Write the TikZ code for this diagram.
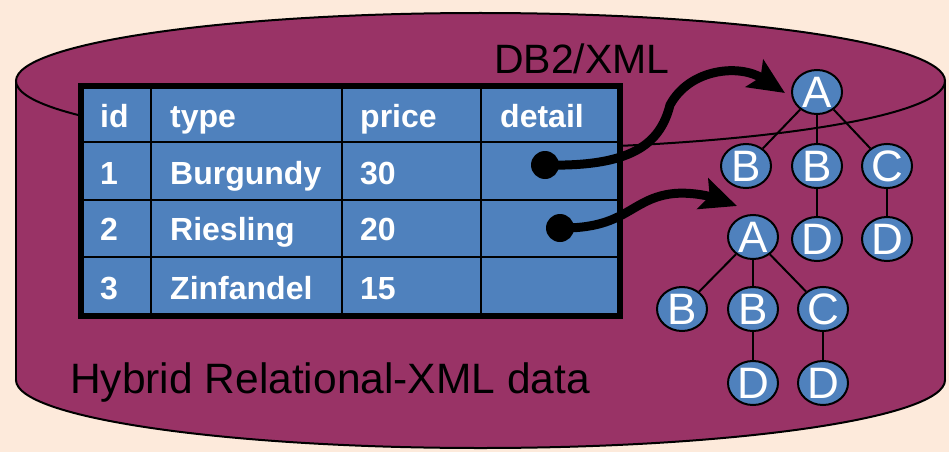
\documentclass[tikz,border=0pt]{standalone}
\usepackage{fontspec}
\setmainfont{Liberation Sans}
\usetikzlibrary{shapes.geometric,arrows.meta}
\definecolor{bg}{HTML}{FDEADB}
\definecolor{maroon}{HTML}{993366}
\definecolor{cellblue}{HTML}{4F81BD}
\begin{document}
\begin{tikzpicture}[x=1pt,y=-1pt,
  cell/.style={anchor=base west,inner sep=0pt,text=white,font=\fontsize{32}{32}\selectfont\bfseries},
  label/.style={anchor=base west,inner sep=0pt,text=black,font=\fontsize{41}{41}\selectfont},
  tnode/.style={ellipse,draw=black,line width=2pt,fill=cellblue,minimum width=50pt,minimum height=44pt,inner sep=0pt,text=white,font=\fontsize{44}{44}\selectfont},
  edge/.style={draw=black,line width=2pt},
  dotnode/.style={circle,fill=black,minimum size=28pt,inner sep=0pt},
  conn/.style={draw=black,line width=9pt,-{Stealth[length=36pt,width=32pt,inset=7pt]}},
  grid/.style={draw=black,line width=2.5pt}]
\useasboundingbox[fill=bg] (0,0) rectangle (949,452);
% cylinder
\fill[maroon,draw=black,line width=2pt] (480.5,380) ellipse [x radius=464.5,y radius=68];
\fill[maroon] (16,81) rectangle (945,380);
\draw[line width=2pt] (16,81) -- (16,380) (945,81) -- (945,380);
\fill[maroon,draw=black,line width=2pt] (480.5,81) ellipse [x radius=464.5,y radius=68];
% table
\fill[cellblue] (81,86) rectangle (619.5,315.5);
\draw[grid] (151,86) -- (151,315.5);
\draw[grid] (342,86) -- (342,315.5);
\draw[grid] (481,86) -- (481,315.5);
\draw[grid] (81,142) -- (619.5,142);
\draw[grid] (81,200) -- (619.5,200);
\draw[grid] (81,257) -- (619.5,257);
\draw[line width=6pt] (81,86) rectangle (619.5,315.5);
\node[cell] (h1) at (100,127) {id};
\node[cell] (h2) at (170,127) {type};
\node[cell] (h3) at (360,127) {price};
\node[cell] (h4) at (500,127) {detail};
\node[cell] (r1a) at (100,184) {1};
\node[cell] (r1b) at (170,184) {Burgundy};
\node[cell] (r1c) at (360,184) {30};
\node[cell] (r2a) at (100,240) {2};
\node[cell] (r2b) at (170,240) {Riesling};
\node[cell] (r2c) at (360,240) {20};
\node[cell] (r3a) at (100,299) {3};
\node[cell] (r3b) at (170,299) {Zinfandel};
\node[cell] (r3c) at (360,299) {15};
% labels
\node[label] (db) at (494,73) {DB2/XML};
\node[label,font=\fontsize{42.5}{42.5}\selectfont] (hy) at (70,393) {Hybrid Relational-XML data};
% tree 1
\node[tnode] (A1) at (817,92) {A};
\node[tnode] (B1) at (746,166) {B};
\node[tnode] (B2) at (817,166) {B};
\node[tnode] (C1) at (887,166) {C};
\node[tnode] (D1) at (817,239) {D};
\node[tnode] (D2) at (887,239) {D};
% tree 2
\node[tnode] (A2) at (753,237) {A};
\node[tnode] (B3) at (682,309) {B};
\node[tnode] (B4) at (753,309) {B};
\node[tnode] (C2) at (823,309) {C};
\node[tnode] (D3) at (753,383) {D};
\node[tnode] (D4) at (823,383) {D};
\draw[edge] (A1) -- (B1);
\draw[edge] (A1) -- (B2);
\draw[edge] (A1) -- (C1);
\draw[edge] (B2) -- (D1);
\draw[edge] (C1) -- (D2);
\draw[edge] (A2) -- (B3);
\draw[edge] (A2) -- (B4);
\draw[edge] (A2) -- (C2);
\draw[edge] (B4) -- (D3);
\draw[edge] (C2) -- (D4);
% connectors
\node[dotnode] (d1) at (545,165) {};
\node[dotnode] (d2) at (560,228) {};
\coordinate (t1) at (785,93);
\coordinate (t2) at (737,206);
\draw[conn] (d1.center) .. controls (630,167) and (660,145) .. (670,105) .. controls (690,68) and (740,64) .. (t1);
\draw[conn] (d2.center) .. controls (625,229) and (630,200) .. (670,194) .. controls (690,191) and (712,197) .. (t2);
\end{tikzpicture}
\end{document}
